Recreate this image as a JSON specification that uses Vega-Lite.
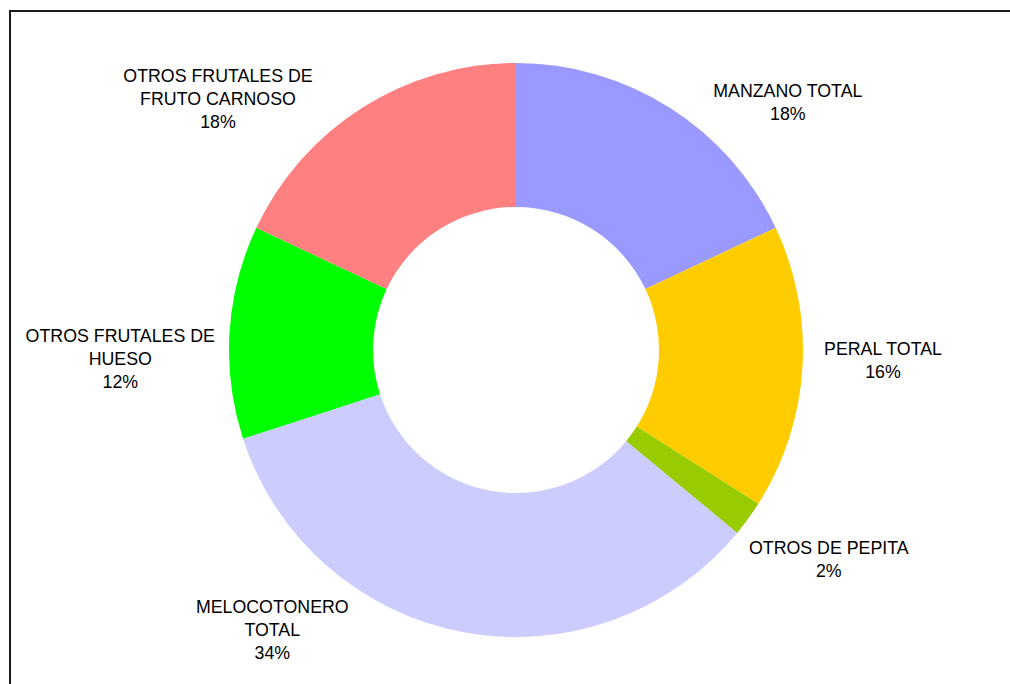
{
  "$schema": "https://vega.github.io/schema/vega-lite/v6.json",
  "width": 1010,
  "height": 684,
  "autosize": {"type": "fit", "contains": "padding"},
  "padding": {"left": 10, "top": 11, "right": -12, "bottom": -5},
  "background": "white",
  "view": {"stroke": "#1a1a1a", "strokeWidth": 2, "strokeDash": [1012, 1690, 678]},
  "data": {
    "values": [
      {"n": 1, "cat": "MANZANO TOTAL", "v": 18, "label": "MANZANO TOTAL\n18%"},
      {"n": 2, "cat": "PERAL TOTAL", "v": 16, "label": "PERAL TOTAL\n16%"},
      {"n": 3, "cat": "OTROS DE PEPITA", "v": 2, "label": "OTROS DE PEPITA\n2%"},
      {"n": 4, "cat": "MELOCOTONERO TOTAL", "v": 34, "label": "MELOCOTONERO\nTOTAL\n34%"},
      {"n": 5, "cat": "OTROS FRUTALES DE HUESO", "v": 12, "label": "OTROS FRUTALES DE\nHUESO\n12%"},
      {"n": 6, "cat": "OTROS FRUTALES DE FRUTO CARNOSO", "v": 18, "label": "OTROS FRUTALES DE\nFRUTO CARNOSO\n18%"}
    ]
  },
  "transform": [
    {"stack": "v", "groupby": [], "sort": [{"field": "n", "order": "ascending"}], "as": ["s0", "s1"]}
  ],
  "encoding": {
    "theta": {"field": "s0", "type": "quantitative", "scale": {"domain": [0, 100]}}
  },
  "layer": [
    {
      "mark": {"type": "arc", "innerRadius": 143, "outerRadius": 287},
      "encoding": {
        "theta2": {"field": "s1"},
        "color": {
          "field": "cat",
          "type": "nominal",
          "scale": {
            "domain": ["MANZANO TOTAL", "PERAL TOTAL", "OTROS DE PEPITA", "MELOCOTONERO TOTAL", "OTROS FRUTALES DE HUESO", "OTROS FRUTALES DE FRUTO CARNOSO"],
            "range": ["#9999FF", "#FFCC00", "#99CC00", "#CCCCFF", "#00FF00", "#FF8080"]
          },
          "legend": null
        }
      }
    },
    {
      "transform": [{"filter": "datum.n == 1"}],
      "mark": {"type": "text", "radius": 376, "thetaOffset": 0.808, "dy": 2, "font": "Liberation Sans", "fontSize": 17.8, "lineHeight": 23, "lineBreak": "\n", "align": "center", "baseline": "middle", "color": "black"},
      "encoding": {"text": {"field": "label"}}
    },
    {
      "transform": [{"filter": "datum.n == 2"}],
      "mark": {"type": "text", "radius": 367, "thetaOffset": 0.435, "dy": 1.5, "font": "Liberation Sans", "fontSize": 17.8, "lineHeight": 23, "lineBreak": "\n", "align": "center", "baseline": "middle", "color": "black"},
      "encoding": {"text": {"field": "label"}}
    },
    {
      "transform": [{"filter": "datum.n == 3"}],
      "mark": {"type": "text", "radius": 370, "thetaOffset": -0.002, "dy": 1.5, "font": "Liberation Sans", "fontSize": 17.8, "lineHeight": 23, "lineBreak": "\n", "align": "center", "baseline": "middle", "color": "black"},
      "encoding": {"text": {"field": "label"}}
    },
    {
      "transform": [{"filter": "datum.n == 4"}],
      "mark": {"type": "text", "radius": 354, "thetaOffset": 1.639, "dy": 1.5, "font": "Liberation Sans", "fontSize": 17.8, "lineHeight": 23, "lineBreak": "\n", "align": "center", "baseline": "middle", "color": "black"},
      "encoding": {"text": {"field": "label"}}
    },
    {
      "transform": [{"filter": "datum.n == 5"}],
      "mark": {"type": "text", "radius": 396, "thetaOffset": 0.352, "dy": 2, "font": "Liberation Sans", "fontSize": 17.8, "lineHeight": 23, "lineBreak": "\n", "align": "center", "baseline": "middle", "color": "black"},
      "encoding": {"text": {"field": "label"}}
    },
    {
      "transform": [{"filter": "datum.n == 6"}],
      "mark": {"type": "text", "radius": 405, "thetaOffset": 0.304, "dy": 1.5, "font": "Liberation Sans", "fontSize": 17.8, "lineHeight": 23, "lineBreak": "\n", "align": "center", "baseline": "middle", "color": "black"},
      "encoding": {"text": {"field": "label"}}
    }
  ]
}
